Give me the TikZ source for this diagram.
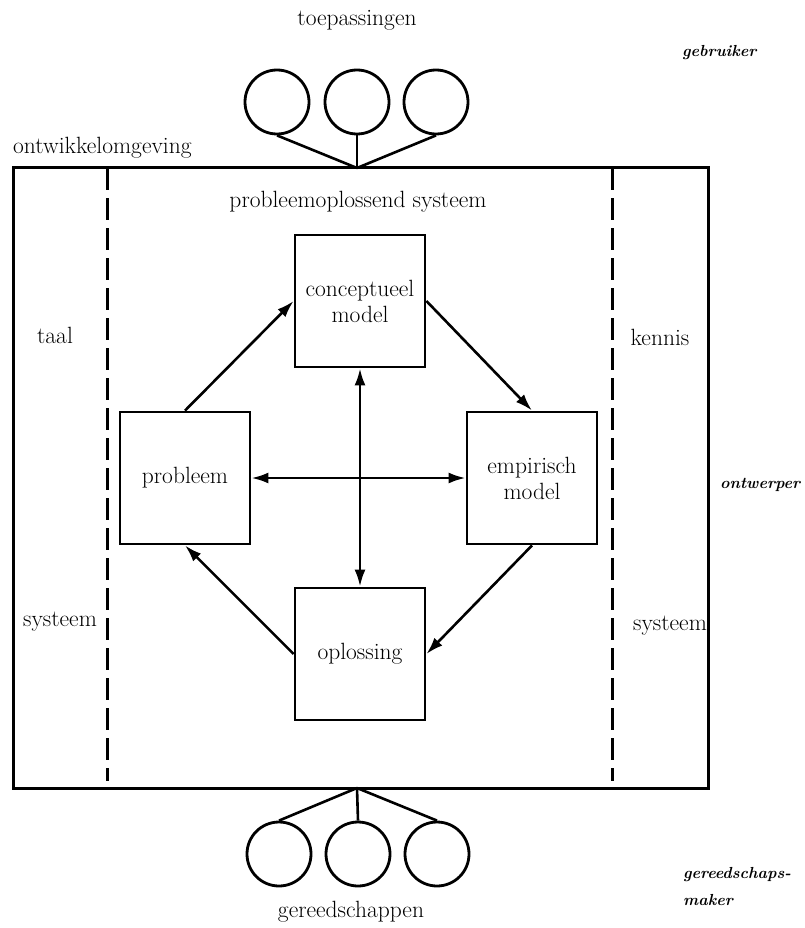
\documentclass[tikz,border=0pt]{standalone}
\usepackage{fontspec}
\usetikzlibrary{arrows.meta}
\newcommand{\txtfont}{\fontsize{23.5}{26}\selectfont\addfontfeatures{FakeBold=1.2}}
\begin{document}
\begin{tikzpicture}[x=1pt,y=-1pt,
  lbl/.style={font=\txtfont, inner sep=0pt},
  ital/.style={font=\fontsize{16}{18}\selectfont\bfseries\itshape, inner sep=0pt, anchor=west},
  boxnode/.style={draw, line width=2.8pt, minimum width=130pt, minimum height=132pt, inner sep=0pt, font=\txtfont, align=center},
  circ/.style={draw, circle, line width=2.8pt, minimum size=64pt, inner sep=0pt},
  frame/.style={line width=3pt},
  sep/.style={line width=3pt, dash pattern=on 22pt off 8pt},
  spoke/.style={line width=2.6pt},
  arr/.style={line width=2.6pt, -{Latex[length=17pt,width=11pt]}},
  darr/.style={line width=2.6pt, {Latex[length=17pt,width=11pt]}-{Latex[length=17pt,width=11pt]}}
]
\useasboundingbox (0,0) rectangle (804,928);

% outer environment frame
\draw[frame] (13,168) rectangle (708,788);
\coordinate (tophub) at (357,168);
\coordinate (bothub) at (357,788);
\coordinate (sepLa) at (107,168);
\coordinate (sepLb) at (107,781);
\coordinate (sepRa) at (612,168);
\coordinate (sepRb) at (612,781);
\draw[sep] (sepLa) -- (sepLb);
\draw[sep] (sepRa) -- (sepRb);

% top circles (toepassingen)
\node[circ] (t1) at (277,102) {};
\node[circ] (t2) at (357,102) {};
\node[circ] (t3) at (436,102) {};
\draw[spoke] (t1.south) -- (tophub);
\draw[spoke] (t2.south) -- (tophub);
\draw[spoke] (t3.south) -- (tophub);

% bottom circles (gereedschappen)
\node[circ] (b1) at (279,854) {};
\node[circ] (b2) at (358,854) {};
\node[circ] (b3) at (437,854) {};
\draw[spoke] (b1.north) -- (bothub);
\draw[spoke] (b2.north) -- (bothub);
\draw[spoke] (b3.north) -- (bothub);

% labels
\node[lbl] (toep) at (357,20) {toepassingen};
\node[lbl] (gereed) at (351,912) {gereedschappen};
\node[lbl, anchor=west] (ontw) at (13,148) {ontwikkelomgeving};
\node[lbl] (pos) at (358,202) {probleemoplossend systeem};
\node[lbl] (taal) at (55,335) {taal};
\node[lbl] (kennis) at (660,337) {kennis};
\node[lbl] (sysL) at (60,622) {systeem};
\node[lbl] (sysR) at (670,626) {systeem};
\node[ital] (gebr) at (682,53) {gebruiker};
\node[ital] (ontwerper) at (720,485) {ontwerper};
\node[ital] (gm1) at (683,875) {gereedschaps-};
\node[ital] (gm2) at (683,900) {maker};

% boxes
\node[boxnode] (concept) at (360,301) {conceptueel\\model};
\node[boxnode] (probleem) at (185,478) {probleem};
\node[boxnode] (empirisch) at (532,478) {empirisch\\model};
\node[boxnode] (oplossing) at (360,654) {oplossing};

% arrows
\draw[arr] (probleem.north) -- (concept.west);
\draw[arr] (concept.east) -- (empirisch.north);
\draw[arr] (empirisch.south) -- (oplossing.east);
\draw[arr] (oplossing.west) -- (probleem.south);
\draw[darr] (concept.south) -- (oplossing.north);
\draw[darr] (probleem.east) -- (empirisch.west);
\end{tikzpicture}
\end{document}
